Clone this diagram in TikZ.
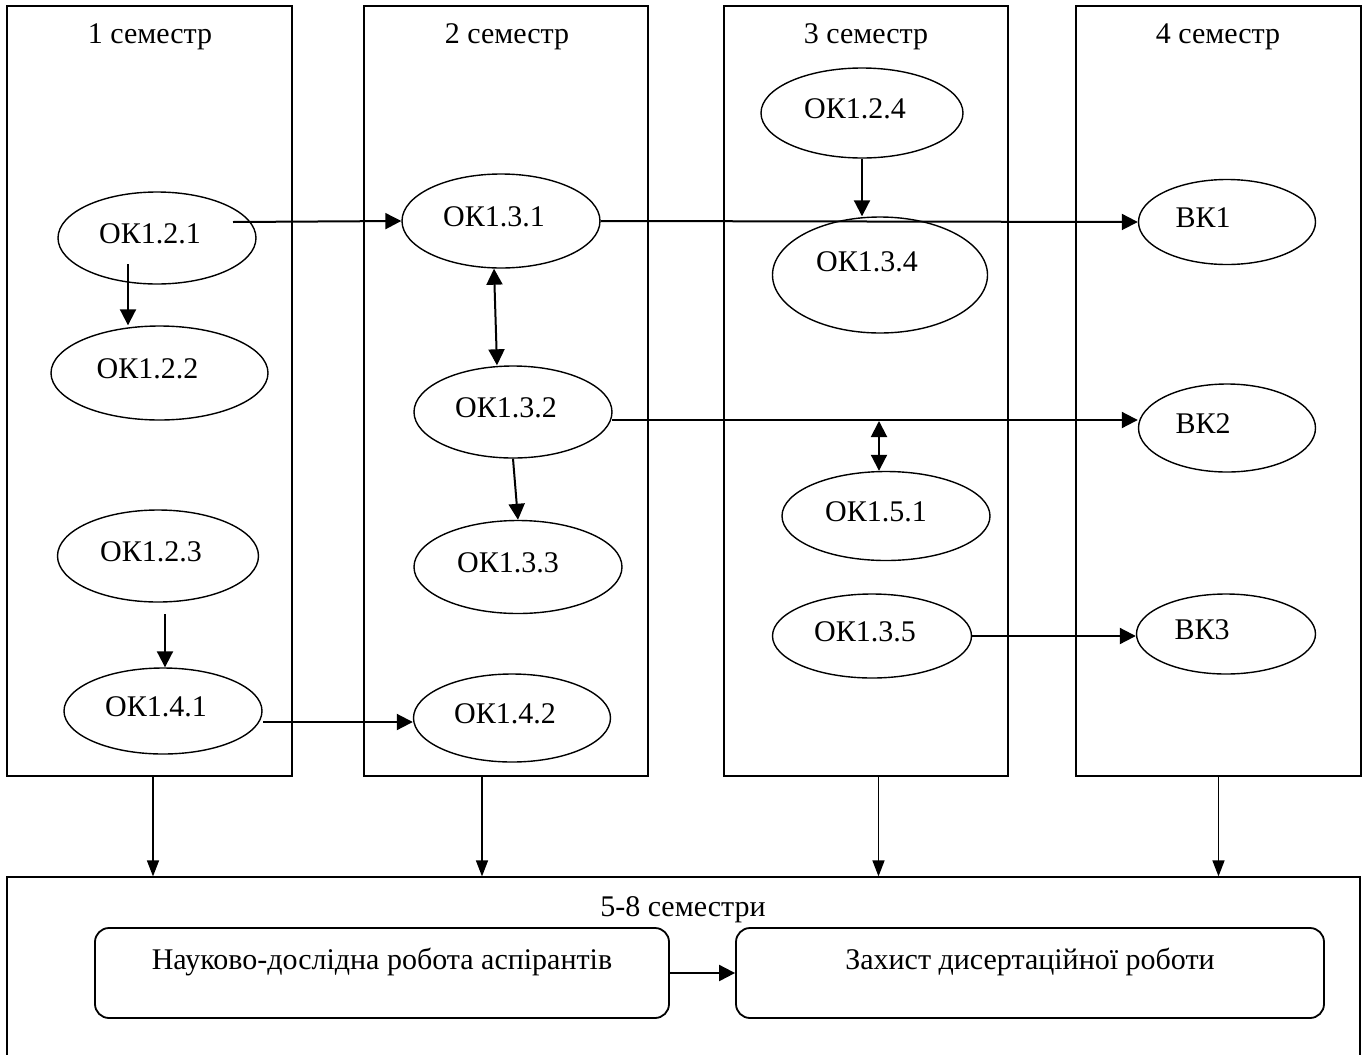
\documentclass[tikz,border=0pt]{standalone}
\usepackage{fontspec}
\setmainfont{Liberation Serif}
\usetikzlibrary{arrows.meta,positioning,shapes.geometric}

\begin{document}
\begin{tikzpicture}
  [x=0.5pt, y=-0.5pt, font=\fontsize{15}{18}\selectfont,
   colbox/.style={draw, line width=0.6pt, minimum width=142.5pt, minimum height=385pt},
   oval/.style={draw, ellipse, line width=0.7pt, inner sep=0pt, text height=10.5pt, text depth=5.5pt,
                execute at end node={\hspace*{#1}}},
   oval/.default=7pt,
   work/.style={draw, rounded corners=7pt, line width=0.9pt, inner sep=0pt, minimum height=45pt,
                text height=10.5pt, text depth=14pt},
   arr/.style={-{Triangle[length=8pt,width=8pt]}, line width=1pt},
   dbl/.style={{Triangle[length=8pt,width=8pt]}-{Triangle[length=8pt,width=8pt]}, line width=1pt},
   drop/.style={-{Triangle[length=8pt,width=6pt]}, line width=0.7pt}]
  \clip (0,0) rectangle (1366,1055);

  % semesters
  \node[colbox] (s1) at (149.5,391) {};
  \node[colbox, minimum width=142pt] (s2) at (506,391) {};
  \node[colbox, minimum width=142pt] (s3) at (866,391) {};
  \node[colbox] (s4) at (1218.5,391) {};
  \node[draw, line width=0.6pt, minimum width=676.5pt, minimum height=111.5pt] (fin) at (683.5,988.5) {};

  \node (h1) at (150,37) {1 семестр};
  \node (h2) at (507,37) {2 семестр};
  \node (h3) at (866,37) {3 семестр};
  \node (h4) at (1218,37) {4 семестр};
  \node (h5) at (683,910) {5-8 семестри};

  % components
  \node[oval, minimum width=99pt, minimum height=46pt] (ok121) at (157,238) {ОК1.2.1};
  \node[oval=12pt, minimum width=108.5pt, minimum height=47pt] (ok122) at (159.5,373) {ОК1.2.2};
  \node[oval, minimum width=100.5pt, minimum height=46pt] (ok123) at (158,556) {ОК1.2.3};
  \node[oval, minimum width=99pt, minimum height=43pt] (ok141) at (163,711) {ОК1.4.1};

  \node[oval, minimum width=99pt, minimum height=47pt] (ok131) at (501,221) {ОК1.3.1};
  \node[oval, minimum width=99pt, minimum height=46pt] (ok132) at (513,412) {ОК1.3.2};
  \node[oval=10pt, minimum width=104pt, minimum height=46.5pt] (ok133) at (518,567) {ОК1.3.3};
  \node[oval, minimum width=98.5pt, minimum height=44pt] (ok142) at (512,718) {ОК1.4.2};

  \node[oval, minimum width=101pt, minimum height=45pt] (ok124) at (862,113) {ОК1.2.4};
  \node[oval=13pt, minimum width=107.5pt, minimum height=58pt, text depth=14pt] (ok134) at (880,275) {ОК1.3.4};
  \node[oval=10pt, minimum width=104pt, minimum height=44.5pt] (ok151) at (886,516) {ОК1.5.1};
  \node[oval, minimum width=99.5pt, minimum height=42pt] (ok135) at (872,636) {ОК1.3.5};

  \node[oval=24pt, minimum width=88.5pt, minimum height=42.5pt] (vk1) at (1227,222) {ВК1};
  \node[oval=24pt, minimum width=88.5pt, minimum height=44pt] (vk2) at (1227,428) {ВК2};
  \node[oval=24pt, minimum width=89.5pt, minimum height=40pt] (vk3) at (1226,634) {ВК3};

  \node[work, minimum width=287pt] (nr) at (382,973) {Науково-дослідна робота аспірантів};
  \node[work, minimum width=294pt] (zd) at (1030,973) {Захист дисертаційної роботи};

  % links
  \coordinate (s121) at (128,264);
  \coordinate (s123) at (165,614);
  \coordinate (s141) at (263,722);
  \coordinate (s132) at (612,420);
  \coordinate (s151) at (879,421);

  \draw[arr] ([xshift=38pt,yshift=8pt]ok121.center) -- (ok131.west);
  \draw[arr] (s121) -- (s121 |- ok122.north);
  \draw[arr] (s123) -- (s123 |- ok141.north);
  \draw[arr] (s141) -- (s141 -| ok142.west);
  \draw[dbl] ([xshift=-3.5pt]ok131.south) -- ([xshift=-8pt]ok132.north);
  \draw[arr] (ok131.east) -- (vk1.west);
  \draw[arr] (ok124.south) -- (ok124.south |- ok134.north);
  \draw[arr] (s132) -- (s132 -| vk2.west);
  \draw[arr] (ok132.south) -- (ok133.north);
  \draw[dbl] (s151) -- (s151 |- ok151.north);
  \draw[arr] (ok135.east) -- (ok135.east -| vk3.west);
  \draw[arr] (nr.east) -- (zd.west);

  \foreach \col/\dx in {s1/1.75pt, s2/-12pt, s3/6.25pt, s4/0pt}{
    \coordinate (b\col) at ([xshift=\dx]\col.south);
    \draw[drop] (b\col) -- (b\col |- fin.north);
  }
\end{tikzpicture}
\end{document}
